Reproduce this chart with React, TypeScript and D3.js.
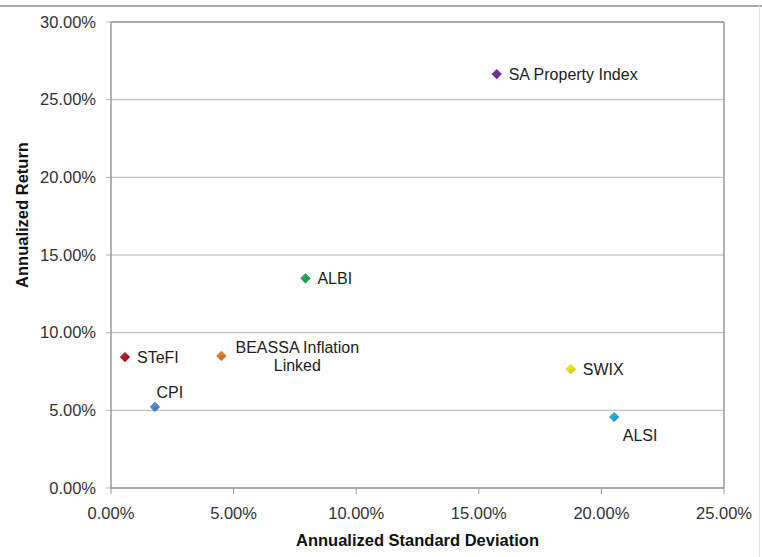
import React from "react";
import * as d3 from "d3";

// asset classes, annualized std dev (%) and annualized return (%)
const names = ["SA Property Index", "ALBI", "STeFI", "BEASSA Inflation Linked", "CPI", "SWIX", "ALSI"];
const stdDev = [15.73, 7.93, 0.57, 4.5, 1.79, 18.75, 20.52];
const annReturn = [26.65, 13.5, 8.43, 8.5, 5.22, 7.65, 4.57];
const colors = ["#6b2e92", "#1f9b4c", "#b3101f", "#d2701f", "#4a7cc2", "#e2d419", "#1e9fd2"];
const labelPos = ["right", "right", "right", "split", "above", "right", "below"];

const xTicks = [0, 5, 10, 15, 20, 25];
const yTicks = [0, 5, 10, 15, 20, 25, 30];

const W = 762;
const H = 557;
const plot = { left: 111, right: 724, top: 22, bottom: 488 };
const font = "'Liberation Sans', Arial, sans-serif";

const App = () => {
  const x = d3.scaleLinear().domain([0, 25]).range([plot.left, plot.right]);
  const y = d3.scaleLinear().domain([0, 30]).range([plot.bottom, plot.top]);
  const fmt = (d: number) => `${d.toFixed(2)}%`;
  const diamond = d3.symbol().type(d3.symbolDiamond2).size(60)();

  return (
    <svg
      width={W}
      height={H}
      style={{ position: "absolute", left: 0, top: 0, background: "#fff" }}
      fontFamily={font}
    >
      <defs>
        {colors.map((c, i) => (
          <linearGradient key={i} id={`g${i}`} x1="0" y1="0" x2="1" y2="1">
            <stop offset="0%" stopColor={d3.color(c)!.brighter(0.6).toString()} />
            <stop offset="100%" stopColor={d3.color(c)!.darker(0.4).toString()} />
          </linearGradient>
        ))}
      </defs>
      {/* outer frame */}
      <line x1={0} x2={W} y1={6} y2={6} stroke="#8c8c8c" strokeWidth={1.5} />
      <line x1={759.5} x2={759.5} y1={6} y2={H} stroke="#e4e4e4" strokeWidth={1} />

      {/* gridlines + y ticks */}
      {yTicks.map((t) => (
        <g key={t}>
          <line x1={plot.left - 5} x2={plot.right} y1={y(t)} y2={y(t)} stroke="#b4b4b4" strokeWidth={1} />
          <text x={96} y={y(t)} dy="0.35em" textAnchor="end" fontSize={16.5} fill="#333">
            {fmt(t)}
          </text>
        </g>
      ))}

      {/* x ticks */}
      {xTicks.map((t) => (
        <g key={t}>
          <line x1={x(t)} x2={x(t)} y1={plot.bottom} y2={plot.bottom + 6} stroke="#999" />
          <text x={x(t)} y={plot.bottom + 25} dy="0.35em" textAnchor="middle" fontSize={16.5} fill="#333">
            {fmt(t)}
          </text>
        </g>
      ))}

      {/* plot frame */}
      <line x1={plot.left} x2={plot.left} y1={plot.top} y2={plot.bottom} stroke="#999" strokeWidth={1.5} />
      <line x1={plot.right} x2={plot.right} y1={plot.top} y2={plot.bottom} stroke="#999" strokeWidth={1.5} />
      <line x1={plot.left} x2={plot.right} y1={plot.top} y2={plot.top} stroke="#999" strokeWidth={1.5} />
      <line x1={plot.left} x2={plot.right} y1={plot.bottom} y2={plot.bottom} stroke="#999" strokeWidth={1.5} />

      {/* axis titles */}
      <text x={(plot.left + plot.right) / 2} y={540} dy="0.35em" textAnchor="middle" fontSize={16.5} fontWeight="bold" fill="#111">
        Annualized Standard Deviation
      </text>
      <text
        transform={`translate(22,215) rotate(-90)`}
        dy="0.35em"
        textAnchor="middle"
        fontSize={16.5}
        fontWeight="bold"
        fill="#111"
      >
        Annualized Return
      </text>

      {/* points */}
      {names.map((n, i) => {
        const px = x(stdDev[i]);
        const py = y(annReturn[i]);
        const pos = labelPos[i];
        let label;
        if (pos === "right") {
          label = (
            <text x={px + 12} y={py} dy="0.35em" fontSize={16} fill="#222">
              {n}
            </text>
          );
        } else if (pos === "above") {
          label = (
            <text x={px + 15} y={py - 15} dy="0.35em" textAnchor="middle" fontSize={16} fill="#222">
              {n}
            </text>
          );
        } else if (pos === "below") {
          label = (
            <text x={px + 26} y={py + 18} dy="0.35em" textAnchor="middle" fontSize={16} fill="#222">
              {n}
            </text>
          );
        } else {
          const words = n.split(" ");
          label = (
            <text x={px + 76} y={py - 9} dy="0.35em" textAnchor="middle" fontSize={16} fill="#222">
              <tspan x={px + 76}>{words.slice(0, 2).join(" ")}</tspan>
              <tspan x={px + 76} dy="18">{words.slice(2).join(" ")}</tspan>
            </text>
          );
        }
        return (
          <g key={n}>
            <path
              d={diamond!}
              transform={`translate(${px},${py}) scale(1,1)`}
              fill={`url(#g${i})`}
              stroke={d3.color(colors[i])!.darker(0.5).toString()}
              strokeWidth={0.5}
            />
            {label}
          </g>
        );
      })}
    </svg>
  );
};

export default App;
